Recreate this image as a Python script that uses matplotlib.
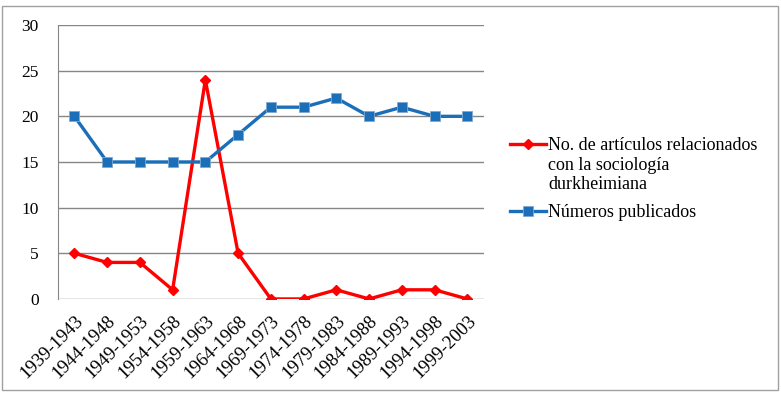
import matplotlib
matplotlib.use("Agg")
import matplotlib.pyplot as plt
from matplotlib.lines import Line2D
from matplotlib.patches import Rectangle

plt.rcParams['font.family'] = ['Liberation Serif', 'DejaVu Serif']

periods = ["1939-1943", "1944-1948", "1949-1953", "1954-1958", "1959-1963",
           "1964-1968", "1969-1973", "1974-1978", "1979-1983", "1984-1988",
           "1989-1993", "1994-1998", "1999-2003"]
articulos = [5, 4, 4, 1, 24, 5, 0, 0, 1, 0, 1, 1, 0]
numeros = [20, 15, 15, 15, 15, 18, 21, 21, 22, 20, 21, 20, 20]
label_art = ["No. de artículos relacionados", "con la sociología", "durkheimiana"]
label_num = "Números publicados"

fig = plt.figure(figsize=(7.81, 3.97), dpi=100)
ax = fig.add_axes([0.0743, 0.247, 0.545, 0.690])

# outer frame around the whole chart
fig.patches.append(Rectangle((0.003, 0.018), 0.993, 0.968, transform=fig.transFigure,
                             fill=False, edgecolor='#a0a0a0', linewidth=1.0))

x = range(len(periods))
red_line, = ax.plot(x, articulos, color='#ff0000', linewidth=2.4, marker='D',
                    markersize=5.5, zorder=3)
blue_line, = ax.plot(x, numeros, color='#1a6fb8', linewidth=2.4, marker='s',
                     markersize=7, markeredgecolor='#7fa8d0', markeredgewidth=0.6,
                     zorder=3)

ax.set_xlim(-0.5, len(periods) - 0.5)
ax.set_ylim(0, 30)
ax.set_yticks(range(0, 31, 5))
ax.yaxis.grid(True, color='#868686', linewidth=1.0)
ax.set_axisbelow(True)
for side in ['top', 'right', 'bottom']:
    ax.spines[side].set_visible(False)
ax.spines['left'].set_color('#868686')
ax.tick_params(axis='y', length=0, labelsize=12.5, pad=14)
ax.tick_params(axis='x', length=0, labelsize=13.5, pad=10)
ax.set_xticks(list(x))
ax.set_xticklabels(periods, rotation=45, ha='right', rotation_mode='anchor')

# legend: first entry wraps over three lines, handle sits on the first one
blank = Line2D([], [], linestyle='none')
leg1 = fig.legend([red_line, blank, blank], label_art, loc='center left',
                  bbox_to_anchor=(0.653, 0.584), frameon=False, fontsize=13,
                  handlelength=2.0, handletextpad=0.1, labelspacing=0.12,
                  borderpad=0, borderaxespad=0, numpoints=1)
leg2 = fig.legend([blue_line], [label_num], loc='center left',
                  bbox_to_anchor=(0.653, 0.465), frameon=False, fontsize=13,
                  handlelength=2.0, handletextpad=0.1,
                  borderpad=0, borderaxespad=0, numpoints=1)

fig.savefig("out.png", dpi=100)
